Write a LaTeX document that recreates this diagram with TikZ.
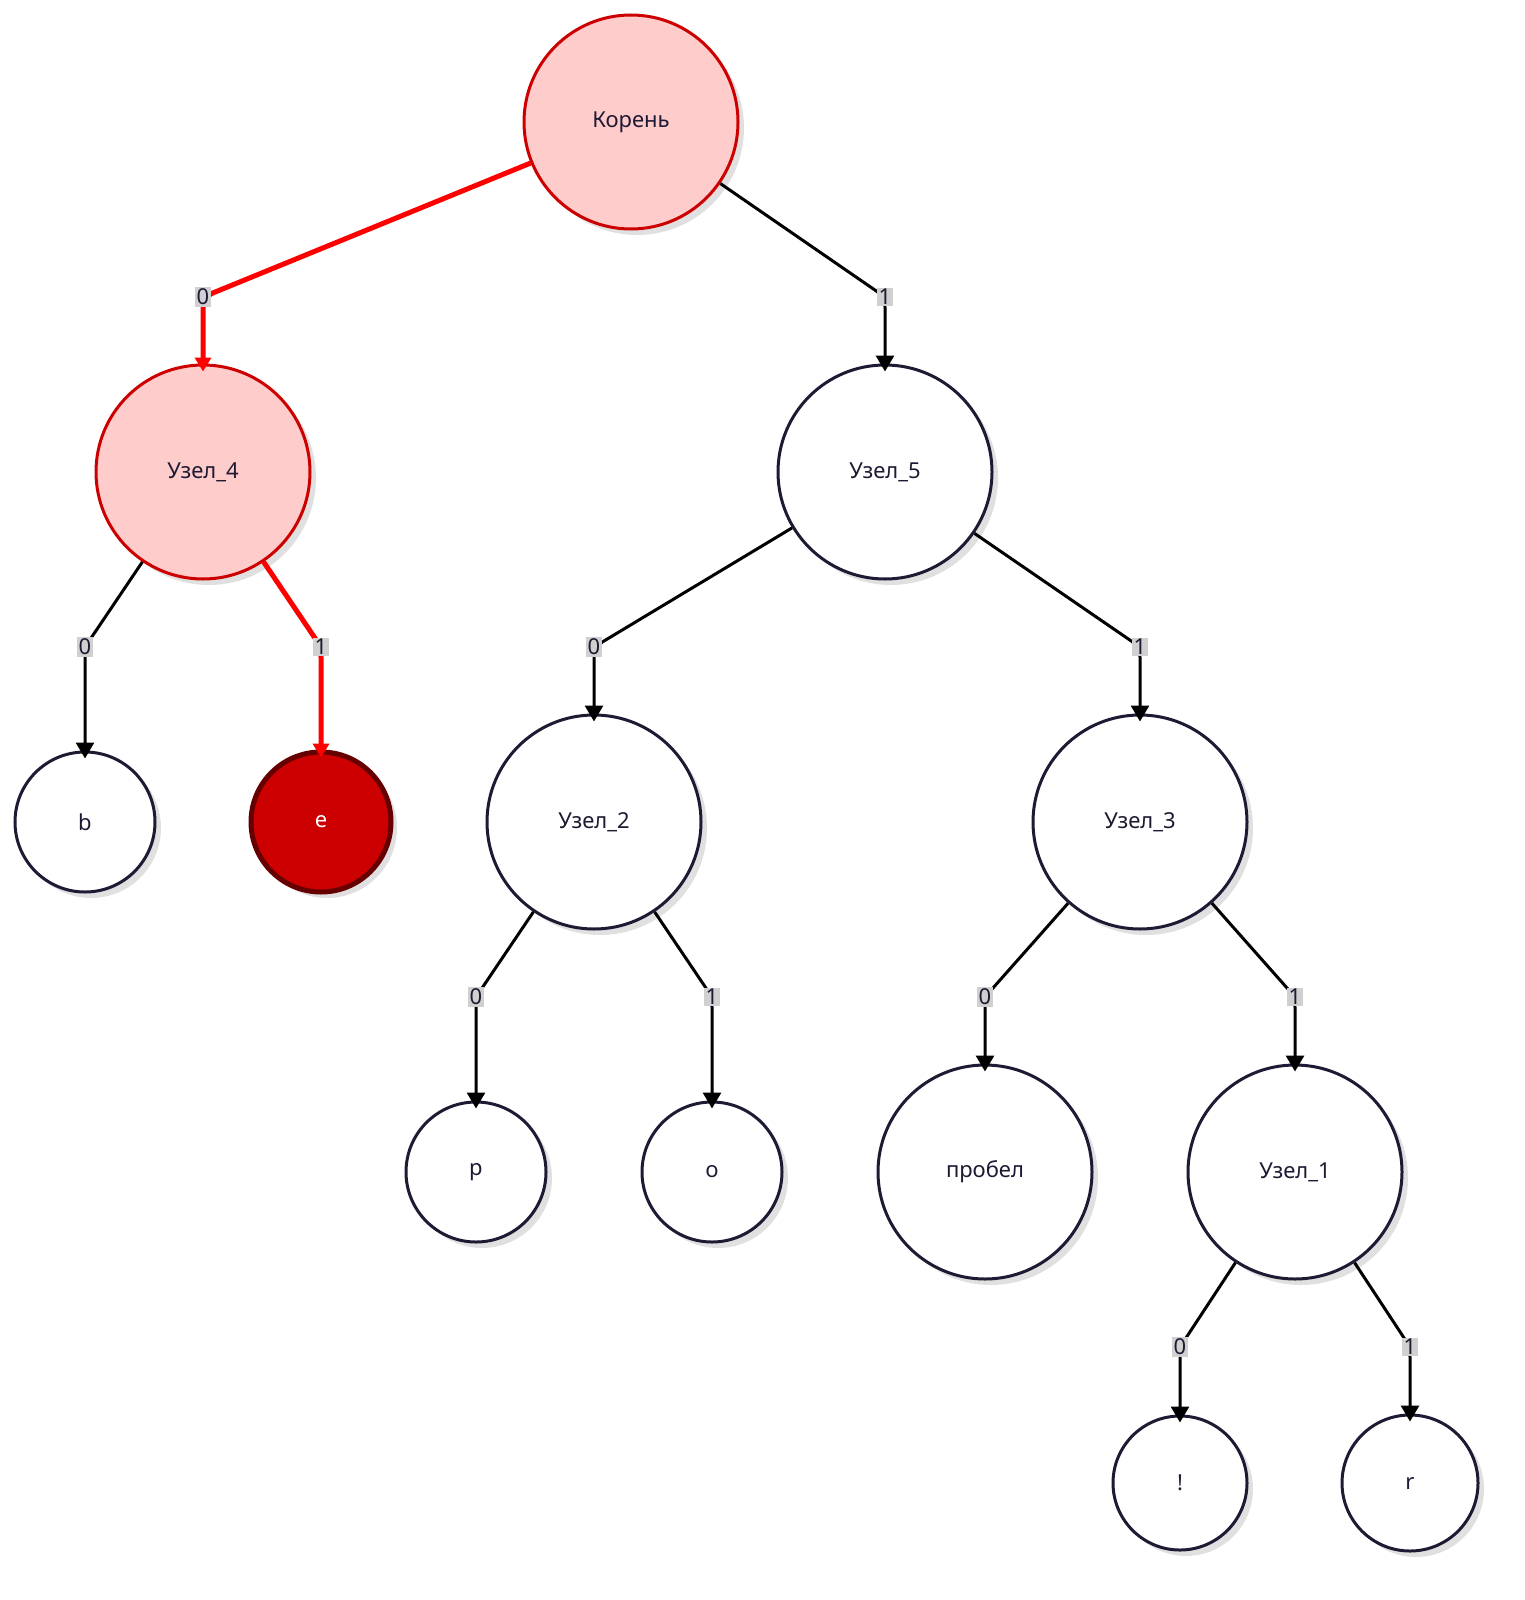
\documentclass[tikz,border=0pt]{standalone}
\usepackage{fontspec}
\setmainfont{Noto Sans}
\usetikzlibrary{arrows.meta,calc,shadows}
\definecolor{nav}{HTML}{1F1A33}
\definecolor{pink}{HTML}{FFCCCC}
\definecolor{dred}{HTML}{CC0000}
\definecolor{lab}{HTML}{D0D0D0}
\tikzset{
 nd/.style={circle,draw=nav,line width=3pt,fill=white,font=\fontsize{22}{26}\selectfont,text=nav,
   drop shadow={shadow xshift=6pt,shadow yshift=-6pt,fill=black!12,opacity=1}},
 big/.style={nd,minimum size=214pt,inner sep=0pt},
 small/.style={nd,minimum size=140pt,inner sep=0pt},
 hot/.style={draw=dred,fill=pink},
 edge/.style={line width=3pt,black,rounded corners=10pt,-{Triangle[length=16pt,width=18pt]}},
 redge/.style={edge,line width=5pt,red,-{Triangle[length=14pt,width=16pt]}},
 lb/.style={fill=lab,inner sep=1.5pt,font=\fontsize{22}{24}\selectfont,text=nav},
}
\begin{document}
\begin{tikzpicture}[x=1pt,y=-1pt]
\useasboundingbox (0,0) rectangle (1524,1600);
\node[big,hot] (root) at (631,122) {Корень};
\node[big,hot] (u4) at (203,472) {Узел\_4};
\node[big] (u5) at (885,472) {Узел\_5};
\node[small] (b) at (85,822) {b};
\node[small,fill=dred,draw=dred!50!black,line width=5pt,text=white] (e) at (321,822) {e};
\node[big] (u2) at (594,822) {Узел\_2};
\node[big] (u3) at (1140,822) {Узел\_3};
\node[small] (p) at (476,1172) {p};
\node[small] (o) at (712,1172) {o};
\node[big] (pr) at (985,1172) {пробел};
\node[big] (u1) at (1295,1172) {Узел\_1};
\node[small,minimum size=134pt] (ex) at (1180,1483) {!};
\node[small,minimum size=136pt] (r) at (1410,1483) {r};
\newcommand\ed[6]{%
 \coordinate (#3) at (#4,#5);
 \draw[#6] (#1) -- (#3) -- ($(#2.north)+(0,8)$);
 \node[lb] at (#3) {\ifnum#5>0\fi\edlab};}
\def\edlab{}
\newcommand\E[7]{%
 \coordinate (#3) at (#4,#5);
 \draw[#7] (#1) -- (#3) -- ($(#2.north)+(0,8)$);
 \node[lb] at (#3) {#6};}
\E{root}{u4}{c1}{203}{297}{0}{redge}
\E{root}{u5}{c2}{885}{297}{1}{edge}
\E{u4}{b}{c3}{85}{647}{0}{edge}
\E{u4}{e}{c4}{321}{647}{1}{redge}
\E{u5}{u2}{c5}{594}{647}{0}{edge}
\E{u5}{u3}{c6}{1140}{647}{1}{edge}
\E{u2}{p}{c7}{476}{997}{0}{edge}
\E{u2}{o}{c8}{712}{997}{1}{edge}
\E{u3}{pr}{c9}{985}{997}{0}{edge}
\E{u3}{u1}{c10}{1295}{997}{1}{edge}
\E{u1}{ex}{c11}{1180}{1347}{0}{edge}
\E{u1}{r}{c12}{1410}{1347}{1}{edge}
\end{tikzpicture}
\end{document}
